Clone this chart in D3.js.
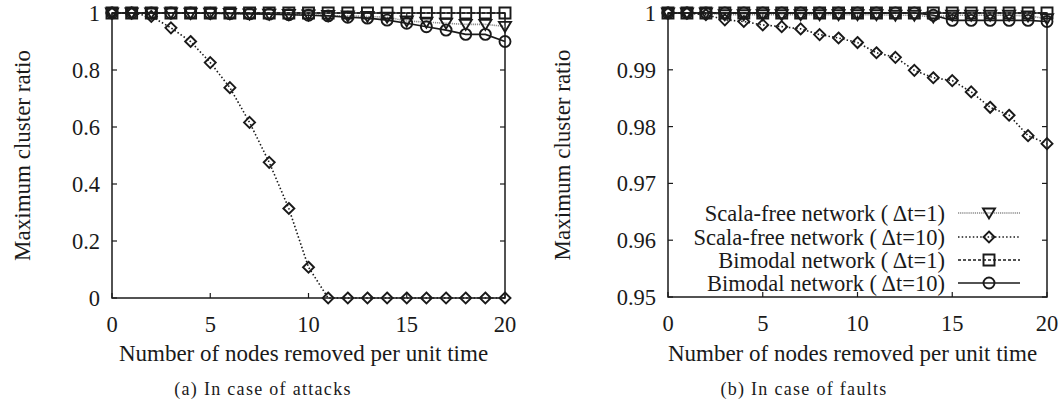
<!DOCTYPE html>
<html><head><meta charset="utf-8">
<script src="https://cdn.jsdelivr.net/npm/d3@7"></script>
<style>body{margin:0;background:#fff}</style>
</head><body><svg id="c" width="1062" height="412" font-family="'Liberation Serif', LiberationSerif, Tinos, 'Times New Roman', 'DejaVu Serif', serif"></svg>
<script>
// ---- data ----
const nodesRemoved = [0,1,2,3,4,5,6,7,8,9,10,11,12,13,14,15,16,17,18,19,20];
const seriesNames = ["Scala-free network (\u2009\u0394t=1)","Scala-free network (\u2009\u0394t=10)","Bimodal network (\u2009\u0394t=1)","Bimodal network (\u2009\u0394t=10)"];

const attackScaleFree1  = [1,1,1,1,0.999,0.999,0.998,0.997,0.996,0.995,0.993,0.991,0.99,0.988,0.985,0.972,0.968,0.964,0.96,0.96,0.953];
const attackScaleFree10 = [1,1,0.988,0.948,0.9,0.826,0.738,0.616,0.476,0.314,0.108,0,0,0,0,0,0,0,0,0,0];
const attackBimodal1    = [1,1,1,1,1,1,1,1,1,1,1,1,1,1,1,1,1,1,1,1,1];
const attackBimodal10   = [1,1,1,1,1,0.999,0.998,0.997,0.996,0.994,0.992,0.99,0.985,0.982,0.975,0.964,0.952,0.94,0.925,0.925,0.9];

const faultScaleFree1  = [1,1,1,0.9997,0.9997,0.9997,0.9997,0.9997,0.9997,0.9997,0.9997,0.9997,0.9996,0.9996,0.9993,0.9996,0.9996,0.9996,0.9996,0.9995,0.999];
const faultScaleFree10 = [1,1,0.9997,0.9988,0.9985,0.9979,0.9976,0.9972,0.9962,0.9956,0.9948,0.993,0.9922,0.9899,0.9886,0.9881,0.9861,0.9834,0.982,0.9784,0.977];
const faultBimodal1    = [1,1,1,1,1,1,1,1,1,1,1,1,1,1,1,1,1,1,1,1,1];
const faultBimodal10   = [1,1,1,1,1,1,1,1,1,1,1,1,1,1,0.9996,0.9987,0.9987,0.9987,0.9987,0.9987,0.9985];

const xTicks = [0,5,10,15,20];
const attackYTicks = [0,0.2,0.4,0.6,0.8,1];
const faultYTicks = [0.95,0.96,0.97,0.98,0.99,1];

// ---- styles ----
const styles = [
  {stroke:"#8a8a8a", width:1.6, dash:"1.2,0.9", marker:"tri"},
  {stroke:"#1a1a1a", width:1.6, dash:"1.5,2.2", marker:"diamond"},
  {stroke:"#1a1a1a", width:1.4, dash:"3,2", marker:"square"},
  {stroke:"#1a1a1a", width:1.6, dash:null, marker:"circle"}
];
const markerColor = "#1a1a1a";
const FS = 22.5;
const TXT = "#1a1a1a";

const svg = d3.select("#c");

function drawMarker(g, type, x, y) {
  const s = g.append("path").attr("fill","none").attr("stroke",markerColor).attr("stroke-width",1.9);
  let d;
  if (type==="tri") d = `M${x-6},${y-4.5}L${x+6},${y-4.5}L${x},${y+5.5}Z`;
  else if (type==="diamond") d = `M${x},${y-5.5}L${x+5.5},${y}L${x},${y+5.5}L${x-5.5},${y}Z`;
  else if (type==="square") d = `M${x-5.5},${y-5.5}h11v11h-11Z`;
  else d = `M${x-5.5},${y}a5.5,5.5 0 1,0 11,0a5.5,5.5 0 1,0 -11,0`;
  s.attr("d", d);
}

function panel(opt) {
  const x = d3.scaleLinear().domain([0,20]).range([opt.x0, opt.x1]);
  const y = d3.scaleLinear().domain(opt.yDomain).range([opt.y0, opt.y1]);
  const g = svg.append("g");
  g.append("rect").attr("x",opt.x0).attr("y",opt.y1).attr("width",opt.x1-opt.x0).attr("height",opt.y0-opt.y1)
    .attr("fill","none").attr("stroke","#1a1a1a").attr("stroke-width",1.5);
  const tl = 5;
  xTicks.forEach(t=>{
    g.append("line").attr("x1",x(t)).attr("x2",x(t)).attr("y1",opt.y0).attr("y2",opt.y0-tl).attr("stroke","#1a1a1a").attr("stroke-width",1.2);
    g.append("line").attr("x1",x(t)).attr("x2",x(t)).attr("y1",opt.y1).attr("y2",opt.y1+tl).attr("stroke","#1a1a1a").attr("stroke-width",1.2);
    g.append("text").attr("x",x(t)).attr("y",opt.y0+34).attr("text-anchor","middle").attr("font-size",FS).attr("fill",TXT).text(d3.format("d")(t));
  });
  opt.yTicks.forEach(t=>{
    g.append("line").attr("x1",opt.x0).attr("x2",opt.x0+tl).attr("y1",y(t)).attr("y2",y(t)).attr("stroke","#1a1a1a").attr("stroke-width",1.2);
    g.append("line").attr("x1",opt.x1).attr("x2",opt.x1-tl).attr("y1",y(t)).attr("y2",y(t)).attr("stroke","#1a1a1a").attr("stroke-width",1.2);
    g.append("text").attr("x",opt.x0-12).attr("y",y(t)+8).attr("text-anchor","end").attr("font-size",FS).attr("fill",TXT).text(opt.fmt(t));
  });
  g.append("text").attr("x",(opt.x0+opt.x1)/2-5).attr("y",361).attr("text-anchor","middle").attr("font-size",FS+0.5).attr("fill",TXT)
    .text("Number of nodes removed per unit time");
  g.append("text").attr("transform",`translate(${opt.ylabX},${(opt.y0+opt.y1)/2}) rotate(-90)`).attr("text-anchor","middle")
    .attr("font-size",FS+0.5).attr("fill",TXT).text("Maximum cluster ratio");
  g.append("text").attr("x",opt.capX).attr("y",395).attr("text-anchor","middle").attr("font-size",18).attr("letter-spacing",1.3).attr("fill",TXT)
    .text(opt.caption);
  opt.series.forEach((vals,si)=>{
    const st = styles[si];
    const line = d3.line().x((d,i)=>x(nodesRemoved[i])).y(d=>y(d));
    g.append("path").datum(vals).attr("d",line).attr("fill","none").attr("stroke",st.stroke)
      .attr("stroke-width",st.width).attr("stroke-dasharray",st.dash);
    vals.forEach((v,i)=>drawMarker(g, st.marker, x(nodesRemoved[i]), y(v)));
  });
  return {x,y,g};
}

panel({x0:112,x1:505,y0:298,y1:13,yDomain:[0,1],yTicks:attackYTicks,fmt:d3.format("~g"),
  series:[attackScaleFree1,attackScaleFree10,attackBimodal1,attackBimodal10],ylabX:30,capX:263,
  caption:"(a) In case of attacks"});
const right = panel({x0:668,x1:1047,y0:297,y1:13,yDomain:[0.95,1],yTicks:faultYTicks,fmt:d3.format("~g"),
  series:[faultScaleFree1,faultScaleFree10,faultBimodal1,faultBimodal10],ylabX:570,capX:804,
  caption:"(b) In case of faults"});

const legY = [213,237,260,283];
seriesNames.forEach((name,i)=>{
  const st = styles[i];
  right.g.append("text").attr("x",945).attr("y",legY[i]+8).attr("text-anchor","end").attr("font-size",FS).attr("fill",TXT).text(name);
  right.g.append("line").attr("x1",958).attr("x2",1020).attr("y1",legY[i]).attr("y2",legY[i])
    .attr("stroke",st.stroke).attr("stroke-width",st.width).attr("stroke-dasharray",st.dash);
  drawMarker(right.g, st.marker, 989, legY[i]);
});
</script></body></html>
